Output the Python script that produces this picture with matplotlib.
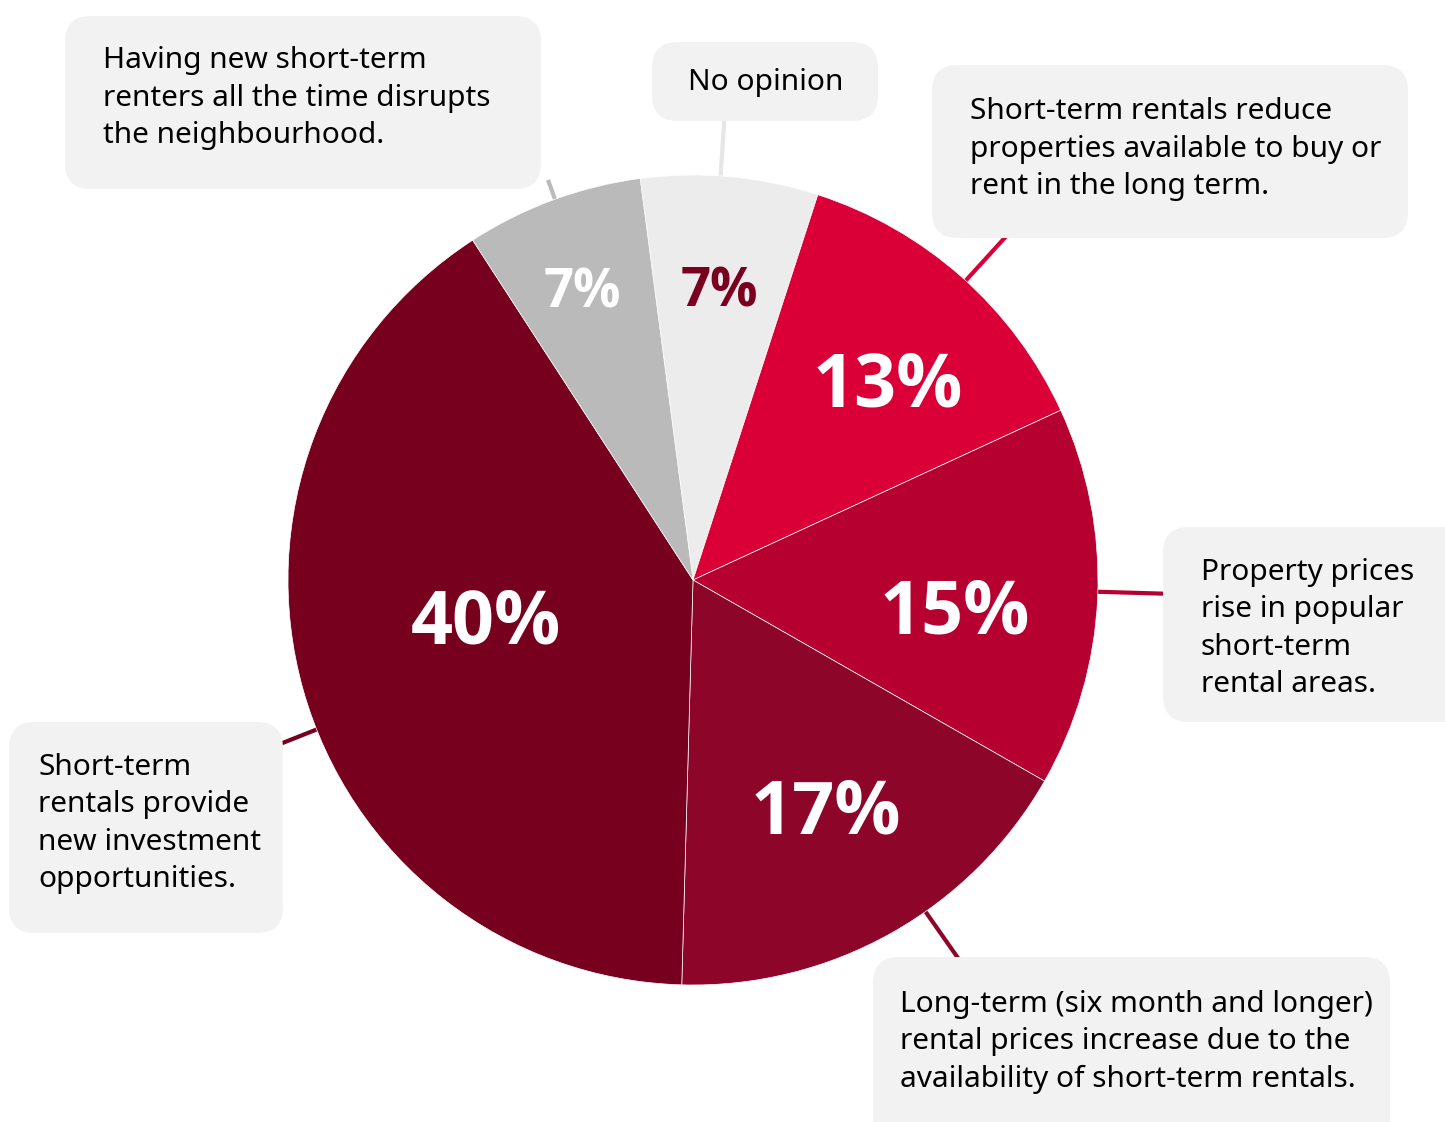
import matplotlib.pyplot as plt
from matplotlib.patches import FancyBboxPatch
import numpy as np

# survey shares, clockwise from the top
answers = [
    "No opinion",
    "Short-term rentals reduce\nproperties available to buy or\nrent in the long term.",
    "Property prices\nrise in popular\nshort-term\nrental areas.",
    "Long-term (six month and longer)\nrental prices increase due to the\navailability of short-term rentals.",
    "Short-term\nrentals provide\nnew investment\nopportunities.",
    "Having new short-term\nrenters all the time disrupts\nthe neighbourhood.",
]
shares = [7, 13, 15, 17, 40, 7]
pct_labels = [f"{v}%" for v in shares]

slice_colors = ["#ececec", "#da0037", "#b50030", "#8d0629", "#76001e", "#bababa"]
pct_colors = ["#7a0020", "white", "white", "white", "white", "white"]
pct_sizes = [38, 53, 53, 53, 53, 38]
pct_radius = [0.726, 0.69, 0.65, 0.65, 0.52, 0.77]
pct_turn = [0, 2.7, 3.4, -1.1, 5.4, -0.6]   # degrees, clockwise on screen

# callout boxes in pixel units: x0, y0, x1, y1
boxes = [
    (652, 42, 878, 121),
    (932, 65, 1408, 238),
    (1163, 527, 1470, 722),
    (873, 957, 1390, 1150),
    (9, 722, 283, 933),
    (65, 16, 541, 189),
]
# last-line baseline of each callout text
text_pos = [(766, 90, "center"), (970, 194, "left"), (1201, 692, "left"),
            (900, 1087, "left"), (38, 887, "left"), (103, 143, "left")]
leader_end = [(725, 110), (1010, 232), (1175, 594), (965, 968), (275, 746), (548, 180)]
leader_colors = ["#e6e6e6", "#da0037", "#b50030", "#8d0629", "#76001e", "#bababa"]

W, H = 1445, 1122
cx, cy, R = 693, 580, 405

fig = plt.figure(figsize=(W / 100, H / 100), dpi=100)
ax = fig.add_axes([0, 0, 1, 1])

# y axis runs downward, so a data-space counterclockwise pie is clockwise on screen
wedges, _ = ax.pie(shares, colors=slice_colors, startangle=-97.5, counterclock=True,
                   radius=R, center=(cx, cy),
                   wedgeprops=dict(linewidth=0.5, edgecolor="white", zorder=3))

for w, lab, col, fs, rf, dt in zip(wedges, pct_labels, pct_colors, pct_sizes,
                                   pct_radius, pct_turn):
    ang = np.deg2rad((w.theta1 + w.theta2) / 2 + dt)
    cap = 0.714 * fs * 100 / 72
    ax.text(cx + rf * R * np.cos(ang), cy + rf * R * np.sin(ang) + cap / 2, lab,
            ha="center", va="baseline", color=col, fontsize=fs,
            fontweight="bold", family="Open Sans", zorder=5)

# leader lines start at the centre and get covered by the slices
for (ex, ey), col in zip(leader_end, leader_colors):
    ax.plot([cx, ex], [cy, ey], color=col, lw=3, zorder=1, solid_capstyle="butt")

for (x0, y0, x1, y1), (tx, ty, ha), txt in zip(boxes, text_pos, answers):
    ax.add_patch(FancyBboxPatch((x0, y0), x1 - x0, y1 - y0,
                                boxstyle="round,pad=0,rounding_size=26",
                                facecolor="#f2f2f2", edgecolor="none", zorder=2))
    ax.text(tx, ty, txt, ha=ha, va="baseline", fontsize=21.5, family="Noto Sans",
            fontweight="medium", color="black", linespacing=1.38, zorder=4,
            multialignment="left")

ax.set_xlim(0, W)
ax.set_ylim(H, 0)
ax.set_aspect("equal")
ax.axis("off")

fig.savefig("out.png", dpi=100, facecolor="white")
